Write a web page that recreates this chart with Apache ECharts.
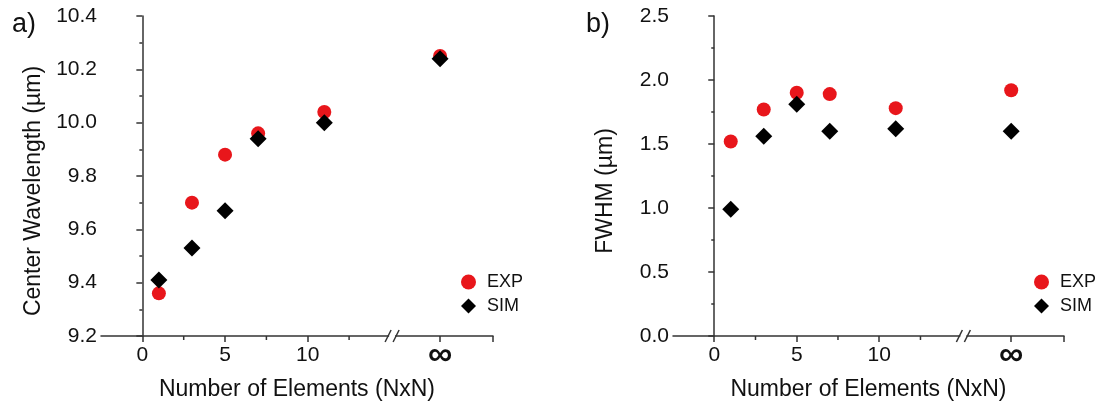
<!DOCTYPE html>
<html>
<head>
<meta charset="utf-8">
<script src="https://cdn.jsdelivr.net/npm/echarts@6/dist/echarts.min.js"></script>
<style>
  html, body { margin: 0; padding: 0; background: #fff; }
  #main { width: 1103px; height: 407px; }
</style>
</head>
<body>
<div id="main"></div>
<script>
// N of the NxN array; 18 is where the "infinite" array sits after the axis break
var nValues = [1, 3, 5, 7, 11, 18];
var waveExp = [9.36, 9.70, 9.88, 9.96, 10.04, 10.25];
var waveSim = [9.41, 9.53, 9.67, 9.94, 10.00, 10.24];
var fwhmExp = [1.52, 1.77, 1.90, 1.89, 1.78, 1.92];
var fwhmSim = [0.99, 1.56, 1.81, 1.60, 1.62, 1.60];

var xLabelTicks = [0, 5, 10, 18];
var xMinorTicks = [2.5, 7.5, 12.5];
var infPos = 18;
var breakAt = 15.1;

var FONT = 'Liberation Sans, Arial, sans-serif';
var RED = '#e8161b';

function pairs(xs, ys) {
  var out = [];
  for (var i = 0; i < xs.length; i++) out.push([xs[i], ys[i]]);
  return out;
}

var myChart = echarts.init(document.getElementById('main'));

function mainX(grid) {
  return {
    type: 'value', gridIndex: grid, min: -2.5, max: 21.2,
    name: 'Number of Elements (NxN)', nameLocation: 'middle', nameGap: 40,
    nameTextStyle: { fontFamily: FONT, fontSize: 23, color: '#111' },
    axisLine: { onZero: false, lineStyle: { color: '#333', width: 1.5 } },
    axisTick: { show: true, customValues: xLabelTicks.concat([21.2]), length: 6, lineStyle: { color: '#333', width: 1.5 } },
    axisLabel: {
      customValues: xLabelTicks, margin: 9,
      fontFamily: FONT, fontSize: 21, color: '#111',
      formatter: function (v) { return v === infPos ? '{inf|∞}' : String(v); },
      rich: { inf: { fontFamily: FONT, fontSize: 34, fontWeight: 'bold', color: '#111', lineHeight: 22 } }
    },
    splitLine: { show: false }
  };
}
function yAx(grid, min, max, interval, name, digits) {
  return {
    type: 'value', gridIndex: grid, min: min, max: max, interval: interval,
    name: name, nameLocation: 'middle', nameGap: 56,
    nameTextStyle: { fontFamily: FONT, fontSize: 23, color: '#111', padding: [0, 30, 0, 0] },
    axisLine: { show: true, lineStyle: { color: '#333', width: 1.5 } },
    axisTick: { show: true, length: 6, lineStyle: { color: '#333', width: 1.5 } },
    minorTick: { show: true, splitNumber: 2, length: 3, lineStyle: { color: '#333', width: 1.5 } },
    axisLabel: {
      fontFamily: FONT, fontSize: 21, color: '#111', margin: 4,
      formatter: function (v) { return v.toFixed(digits); }
    },
    splitLine: { show: false }
  };
}

// short minor ticks under the x axis, placed through the axis scale
function minorTickSeries(xIdx, yIdx, yMin) {
  return {
    type: 'custom', xAxisIndex: xIdx, yAxisIndex: yIdx, silent: true, clip: false, z: 10,
    data: xMinorTicks.map(function (v) { return [v, yMin]; }),
    renderItem: function (params, api) {
      var p = api.coord([api.value(0), api.value(1)]);
      return {
        type: 'group',
        children: [
          { type: 'rect', shape: { x: p[0] - 0.75, y: p[1], width: 1.5, height: 4 }, style: { fill: '#333' } }
        ]
      };
    }
  };
}

function breakSeries(xIdx, yIdx, yMin) {
  return {
    type: 'custom', xAxisIndex: xIdx, yAxisIndex: yIdx, silent: true, clip: false, z: 10,
    data: [[breakAt, yMin]],
    renderItem: function (params, api) {
      var p = api.coord([api.value(0), api.value(1)]);
      var s = { stroke: '#333', lineWidth: 1.5 };
      return {
        type: 'group',
        children: [
          { type: 'rect', shape: { x: p[0] - 3, y: p[1] - 2, width: 6, height: 4 }, style: { fill: '#fff' } },
          { type: 'line', shape: { x1: p[0] - 7, y1: p[1] + 6, x2: p[0] - 1, y2: p[1] - 6 }, style: s },
          { type: 'line', shape: { x1: p[0] + 1, y1: p[1] + 6, x2: p[0] + 7, y2: p[1] - 6 }, style: s }
        ]
      };
    }
  };
}

function legendAt(left) {
  return {
    left: left, top: 273, orient: 'vertical', itemGap: 6, padding: 0,
    itemWidth: 15, itemHeight: 15,
    textStyle: { fontFamily: FONT, fontSize: 18, color: '#111', padding: [0, 0, 0, 6] },
    data: [{ name: 'EXP', icon: 'circle' }, { name: 'SIM', icon: 'diamond' }]
  };
}

function scatter(name, xIdx, yIdx, ys) {
  var isExp = name === 'EXP';
  return {
    name: name, type: 'scatter', xAxisIndex: xIdx, yAxisIndex: yIdx,
    symbol: isExp ? 'circle' : 'diamond', symbolSize: isExp ? 14 : 17,
    itemStyle: { color: isExp ? RED : '#000', opacity: 1 },
    data: pairs(nValues, ys)
  };
}

myChart.setOption({
  animation: false,
  title: [
    { text: 'a)', left: 7, top: 6, textStyle: { fontFamily: FONT, fontSize: 27, fontWeight: 'normal', color: '#111' } },
    { text: 'b)', left: 581, top: 6, textStyle: { fontFamily: FONT, fontSize: 27, fontWeight: 'normal', color: '#111' } }
  ],
  legend: [legendAt(461), legendAt(1034)],
  grid: [
    { left: 101, top: 16, width: 392, height: 320 },
    { left: 673, top: 16, width: 391, height: 320 }
  ],
  xAxis: [mainX(0), mainX(1)],
  yAxis: [
    yAx(0, 9.2, 10.4, 0.2, 'Center Wavelength (µm)', 1),
    yAx(1, 0, 2.5, 0.5, 'FWHM (µm)', 1)
  ],
  series: [
    scatter('EXP', 0, 0, waveExp),
    scatter('SIM', 0, 0, waveSim),
    scatter('EXP', 1, 1, fwhmExp),
    scatter('SIM', 1, 1, fwhmSim),
    minorTickSeries(0, 0, 9.2),
    minorTickSeries(1, 1, 0),
    breakSeries(0, 0, 9.2),
    breakSeries(1, 1, 0)
  ]
});
</script>
</body>
</html>
